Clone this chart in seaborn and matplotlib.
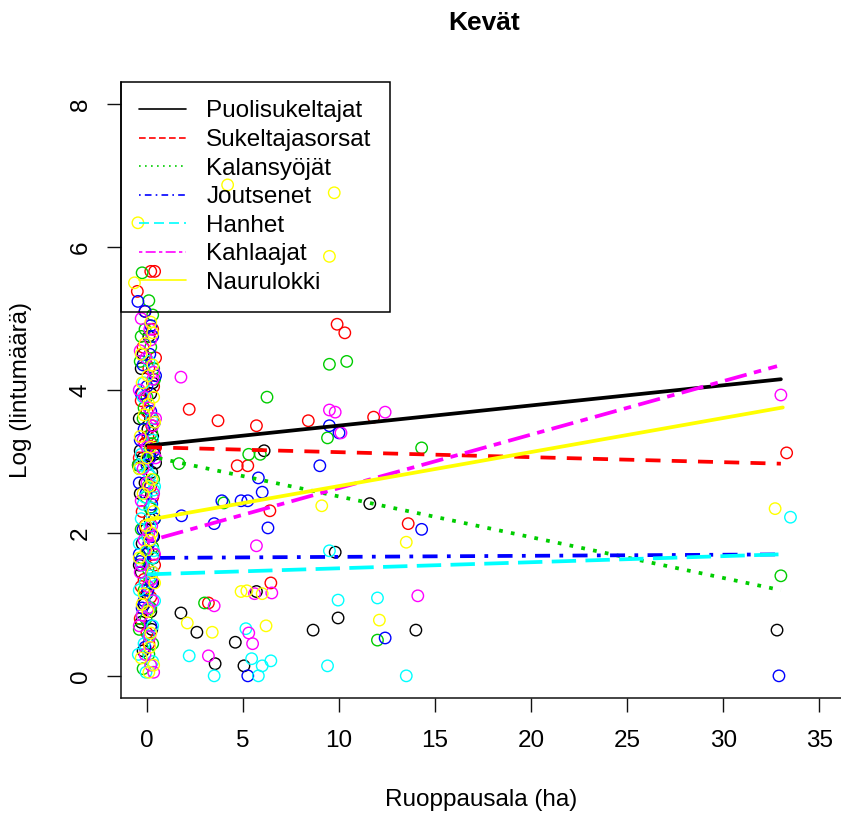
import numpy as np
import pandas as pd
import matplotlib
matplotlib.use('Agg')
import matplotlib.pyplot as plt
from matplotlib.lines import Line2D
import seaborn as sns

# Group names, colours (R palette 1..7) and line types
groups = ['Puolisukeltajat', 'Sukeltajasorsat', 'Kalansyöjät', 'Joutsenet',
          'Hanhet', 'Kahlaajat', 'Naurulokki']
colors = ['#000000', '#FF0000', '#00CD00', '#0000FF', '#00FFFF', '#FF00FF', '#FFFF00']

# Observations read from the picture: x = ruoppausala (ha), y = log(lintumäärä)
# (sites without dredging sit in the column around x = 0)
puoli_x = [0.1, -0.3, 0.2, -0.4, 0.3, -0.1, 0.4, -0.2, 0.0, -0.45, 0.25, -0.35,
           0.15, -0.05, 0.35, -0.25, 0.05, -0.4, 0.3, -0.15, 0.2, -0.3, 0.1, -0.2,
           -0.2, 0.3, 0.05, -0.35, 0.15, 0.45, -0.1, 0.2, 0.35, -0.3, 0.0, 0.25,
           6.1, 11.6, 9.8, 5.7, 1.77, 9.95, 2.6, 8.65, 14.0, 4.6, 3.55, 5.05, 32.8]
puoli_y = [4.75, 4.3, 3.95, 3.6, 3.35, 3.25, 3.1, 3.05, 3.0, 2.95, 2.85, 2.55,
           2.2, 2.05, 1.95, 1.85, 1.75, 1.55, 1.3, 1.0, 0.9, 0.75, 0.55, 0.35,
           4.5, 4.1, 3.45, 3.15, 3.08, 2.98, 2.7, 2.35, 1.65, 1.45, 1.15, 0.65,
           3.15, 2.41, 1.73, 1.18, 0.88, 0.81, 0.61, 0.64, 0.64, 0.47, 0.17, 0.14, 0.64]

sukel_x = [0.2, 0.4, -0.5, 0.3, -0.2, 0.1, 0.35, -0.3, 0.0, 0.25, -0.1, 0.45,
           -0.4, 0.15, 0.3, -0.25, 0.05, 0.35, -0.15, 0.2, -0.35, 0.1,
           -0.1, 0.45, -0.25, 0.3, 0.05, -0.4, 0.2, -0.1, 0.4, -0.3, 0.15, 0.0,
           2.2, 3.7, 5.7, 8.4, 9.9, 10.3, 11.8, 4.7, 5.25, 6.4, 13.6, 6.45, 3.2, 33.3]
sukel_y = [5.66, 5.66, 5.38, 4.85, 4.6, 4.3, 4.05, 3.85, 3.7, 3.5, 3.25, 3.2,
           2.95, 2.8, 2.5, 2.3, 1.95, 1.7, 1.35, 1.1, 0.8, 0.45,
           5.1, 4.45, 3.95, 3.6, 3.35, 3.05, 2.65, 2.1, 1.55, 1.25, 0.95, 0.6,
           3.73, 3.57, 3.5, 3.57, 4.92, 4.8, 3.62, 2.94, 2.94, 2.31, 2.13, 1.3, 1.02, 3.12]

kalan_x = [-0.25, 0.3, -0.1, 0.2, -0.35, 0.4, 0.0, -0.2, 0.25, 0.1, -0.4, 0.35,
           -0.05, 0.15, -0.3, 0.3, 0.05, -0.15, 0.2, -0.4, 0.1, -0.2,
           0.1, -0.3, 0.35, -0.15, 0.25, -0.45, 0.05, 0.4, -0.25, 0.15, -0.05, 0.3,
           6.25, 9.5, 10.4, 9.4, 14.3, 5.3, 5.9, 1.67, 4.0, 3.0, 12.0, 33.0]
kalan_y = [5.64, 5.05, 4.85, 4.6, 4.4, 4.15, 3.9, 3.6, 3.4, 3.1, 2.9, 2.75,
           2.5, 2.35, 2.05, 1.8, 1.5, 1.2, 0.95, 0.65, 0.3, 0.1,
           5.25, 4.75, 4.3, 3.75, 3.25, 2.95, 2.65, 2.2, 1.65, 1.35, 0.8, 0.45,
           3.9, 4.36, 4.4, 3.33, 3.19, 3.1, 3.1, 2.97, 2.42, 1.02, 0.5, 1.4]

jouts_x = [-0.47, -0.1, 0.3, 0.15, 0.45, -0.3, 0.2, -0.15, 0.35, 0.0, -0.4, 0.25,
           0.4, -0.2, 0.1, -0.35, 0.3, 0.05, -0.25, 0.2, -0.1,
           0.2, -0.2, 0.0, 0.4, -0.35, 0.15, -0.05, 0.3, -0.4, 0.25, -0.15, 0.1,
           9.5, 10.0, 9.0, 5.8, 6.0, 3.9, 4.9, 5.25, 1.8, 3.5, 6.3, 14.3, 12.4, 5.25, 32.9]
jouts_y = [5.24, 5.1, 4.75, 4.5, 4.2, 3.95, 3.7, 3.45, 3.15, 2.95, 2.7, 2.4,
           2.2, 2.05, 1.85, 1.6, 1.45, 1.2, 0.95, 0.7, 0.4,
           4.9, 4.35, 4.05, 3.55, 3.3, 3.05, 2.55, 1.95, 1.7, 1.3, 1.05, 0.55,
           3.5, 3.4, 2.94, 2.77, 2.57, 2.45, 2.45, 2.45, 2.24, 2.13, 2.07, 2.05, 0.53, 0.0, 0.0]

hanhet_x = [0.1, -0.2, 0.3, -0.35, 0.15, 0.4, -0.1, 0.25, -0.3, 0.05, 0.35, -0.25,
            0.2, -0.4, 0.1, 0.3, -0.15, -0.45, 0.2, -0.05,
            -0.15, 0.25, -0.3, 0.05, 0.35, -0.2, 0.15, -0.4, 0.3, -0.1, 0.4, -0.25, 0.1, 0.3,
            9.5, 9.95, 12.0, 5.15, 2.2, 3.5, 5.45, 6.0, 6.45, 5.8, 9.4, 13.5, 33.5]
hanhet_y = [4.4, 3.9, 3.3, 2.95, 2.8, 2.65, 2.5, 2.35, 2.2, 1.95, 1.75, 1.55,
            1.4, 1.2, 0.95, 0.7, 0.45, 0.3, 0.15, 0.05,
            4.1, 3.6, 3.1, 2.85, 2.6, 2.4, 2.1, 1.85, 1.65, 1.3, 1.05, 0.85, 0.55, 0.2,
            1.75, 1.06, 1.09, 0.66, 0.28, 0.0, 0.24, 0.14, 0.21, 0.0, 0.14, 0.0, 2.22]

kahla_x = [-0.3, 0.2, -0.05, 0.35, -0.4, 0.1, 0.3, -0.2, 0.45, 0.0, -0.3, 0.25,
           -0.15, 0.4, -0.35, 0.05, 0.3, -0.25, 0.15, -0.1, 0.35,
           0.15, -0.35, 0.3, -0.1, 0.45, 0.0, -0.2, 0.35, 0.1, -0.3, 0.25, 0.05, -0.4, 0.2,
           1.77, 9.5, 9.8, 10.1, 12.4, 5.7, 5.6, 6.5, 3.5, 14.1, 5.3, 5.5, 3.2, 33.0]
kahla_y = [5.0, 4.7, 4.45, 4.25, 4.0, 3.75, 3.5, 3.3, 3.05, 2.7, 2.45, 2.1,
           1.9, 1.7, 1.45, 1.25, 1.05, 0.85, 0.55, 0.3, 0.05,
           4.85, 4.55, 4.15, 3.9, 3.6, 3.2, 2.9, 2.55, 2.0, 1.55, 1.35, 0.95, 0.7, 0.15,
           4.18, 3.72, 3.69, 3.4, 3.69, 1.82, 1.15, 1.16, 0.98, 1.12, 0.6, 0.45, 0.28, 3.93]

naur_x = [-0.47, -0.65, 0.2, -0.1, 0.3, -0.25, 0.1, 0.4, -0.35, 0.0, 0.25, -0.2,
          0.35, -0.05, 0.15, -0.4, 0.3, -0.15, 0.05, 0.2, -0.3, 0.1,
          0.3, -0.3, 0.05, 0.35, -0.15, 0.2, -0.4, 0.1, 0.25, -0.05, 0.4, -0.25, 0.15, 0.35,
          4.2, 9.75, 9.5, 9.1, 13.5, 4.9, 5.2, 6.0, 6.2, 2.1, 12.1, 3.4, 32.7]
naur_y = [6.34, 5.5, 4.95, 4.65, 4.35, 4.1, 3.8, 3.55, 3.35, 3.05, 2.75, 2.55,
          2.3, 2.1, 1.9, 1.65, 1.45, 1.15, 0.9, 0.6, 0.25, 0.05,
          4.8, 4.5, 4.2, 3.9, 3.65, 3.2, 2.9, 2.65, 2.0, 1.75, 1.3, 1.0, 0.4, 0.15,
          6.87, 6.76, 5.87, 2.38, 1.87, 1.18, 1.19, 1.15, 0.7, 0.74, 0.78, 0.61, 2.34]

# Fitted regression lines per group (intercept, slope), drawn over x range
fit_intercept = [3.22, 3.20, 3.08, 1.65, 1.42, 1.88, 2.18]
fit_slope = [0.0282, -0.0070, -0.0570, 0.0015, 0.0085, 0.0748, 0.0476]
fit_xmax = [33.0, 33.0, 33.0, 33.0, 33.0, 32.8, 33.1]

# R line types 1..7 -> dash patterns
dash_lines = [None, (4, 3), (1, 2.2), (1, 2.5, 4, 2.5), (6.5, 2.5), (2, 2, 6, 2), None]
dash_legend = [None, (4, 2), (1, 2.6), (1, 2.5, 4, 2.5), (6, 3), (2, 2, 6, 2), None]

xs_all = [puoli_x, sukel_x, kalan_x, jouts_x, hanhet_x, kahla_x, naur_x]
ys_all = [puoli_y, sukel_y, kalan_y, jouts_y, hanhet_y, kahla_y, naur_y]
df = pd.concat([pd.DataFrame({'x': xs, 'y': ys, 'group': g})
                for g, xs, ys in zip(groups, xs_all, ys_all)], ignore_index=True)

sns.set_theme(style='white')
plt.rcParams['font.family'] = ['Liberation Sans', 'DejaVu Sans']
plt.rcParams['text.color'] = 'black'
plt.rcParams['xtick.color'] = 'black'
plt.rcParams['ytick.color'] = 'black'

fig = plt.figure(figsize=(8.41, 8.14), dpi=100)
ax = fig.add_axes([121 / 841, 116 / 814, 720 / 841, 616 / 814])

sns.scatterplot(data=df, x='x', y='y', hue='group', palette=colors,
                hue_order=groups, s=68, marker='o', linewidth=1.0,
                legend=False, ax=ax)
pc = ax.collections[0]
pc.set_edgecolors(pc.get_facecolors())
pc.set_facecolors('none')

for i, g in enumerate(groups):
    lx = np.array([0.0, fit_xmax[i]])
    ly = fit_intercept[i] + fit_slope[i] * lx
    sns.lineplot(x=lx, y=ly, color=colors[i], lw=2.7, ax=ax)
    ln = ax.lines[-1]
    if dash_lines[i] is not None:
        ln.set_dashes(dash_lines[i])
    ln.set_dash_capstyle('butt')

handles = []
for i, g in enumerate(groups):
    h = Line2D([0], [0], color=colors[i], lw=1.2)
    if dash_legend[i] is not None:
        h.set_dashes(dash_legend[i])
    handles.append(h)
leg = ax.legend(handles, groups, loc='upper left', bbox_to_anchor=(0, 1),
                borderaxespad=0, frameon=True, fancybox=False,
                facecolor='none', edgecolor='black', framealpha=1,
                fontsize=17.5, handlelength=1.9, handletextpad=0.85,
                labelspacing=0.27, borderpad=0.76)
leg.get_frame().set_linewidth(1.1)

ax.set_xlim(-1.35, 36.13)
ax.set_ylim(-0.31, 8.31)
ax.set_xticks([0, 5, 10, 15, 20, 25, 30, 35])
ax.set_yticks([0, 2, 4, 6, 8])
ax.set_xlabel('')
ax.set_ylabel('')
for side in ['top', 'right']:
    ax.spines[side].set_visible(False)
for side in ['left', 'bottom']:
    ax.spines[side].set_linewidth(1.1)
    ax.spines[side].set_color('#111111')
ax.tick_params(axis='both', direction='out', length=10, width=1.0,
               color='#111111', labelcolor='black', labelsize=17.5,
               left=True, bottom=True)
ax.tick_params(axis='x', pad=13)
ax.tick_params(axis='y', pad=11, labelrotation=90)
for lab in ax.get_yticklabels():
    lab.set_va('center')

fig.text(484 / 841, 1 - 23 / 814, 'Kevät', ha='center', va='center',
         fontsize=19, fontweight='bold')
fig.text(481 / 841, 1 - 800 / 814, 'Ruoppausala (ha)', ha='center',
         va='center', fontsize=17.5)
fig.text(21 / 841, 1 - 390 / 814, 'Log (lintumäärä)', ha='center',
         va='center', fontsize=17.5, rotation=90)

fig.savefig('out.png', dpi=100)
